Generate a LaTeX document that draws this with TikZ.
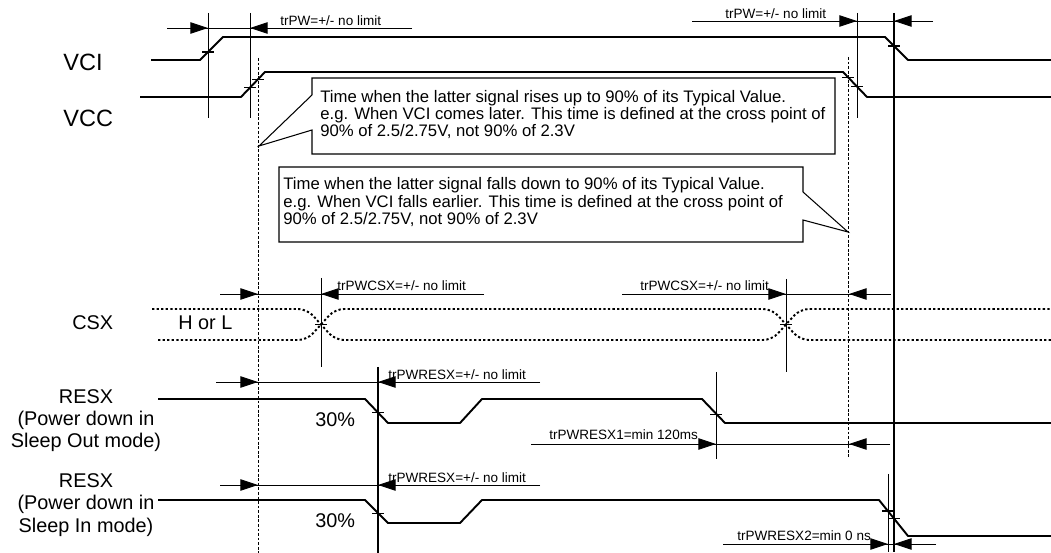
\documentclass[tikz,border=0pt]{standalone}
\usepackage{fontspec}
\setmainfont{Liberation Sans}
\usepackage{tikz}
\usetikzlibrary{arrows.meta}

\tikzset{
	sig/.style = {line width = 1.1pt, line join = round},
	guide/.style = {line width = 0.5pt},
	longguide/.style = {line width = 0.85pt},
	refline/.style = {line width = 0.5pt, dash pattern = on 1.6pt off 1pt},
	busdot/.style = {line width = 1.1pt, dash pattern = on 1.3pt off 1.3pt, rounded corners = 5pt},
	dimarrow/.style = {line width = 0.5pt, -{Triangle[length = 10pt, width = 6.5pt]}},
	crosstick/.style = {line width = 0.6pt},
	bigtext/.style = {font = \fontsize{13.4}{15}\selectfont, inner sep = 0pt},
	sigtext/.style = {font = \fontsize{11.3}{12.8}\selectfont, inner sep = 0pt},
	dimtext/.style = {font = \fontsize{7.7}{9}\selectfont, inner sep = 0pt},
	notetext/.style = {font = \fontsize{9.5}{9.9}\selectfont, inner sep = 0pt, align = left},
}

\begin{document}
\begin{tikzpicture}[x = 0.02cm, y = -0.02cm]
	\def\W{1051}
	\def\H{553}
	
	\useasboundingbox (0,0) rectangle (\W,\H);
	
	% signal names
	\node [bigtext, anchor = west] (vci) at (63,62) {VCI};
	\node [bigtext, anchor = west] (vcc) at (63,118) {VCC};
	\node [sigtext, anchor = west] (csx) at (72,323) {CSX};
	\node [sigtext, anchor = west] (horl) at (178,323) {H or L};
	\node [sigtext, align = center, anchor = base] (resxout) at (86,448) {RESX\\(Power down in\\Sleep Out mode)};
	\node [sigtext, align = center, anchor = base] (resxin) at (86,532) {RESX\\(Power down in\\Sleep In mode)};
	\node [sigtext, anchor = west] (pctout) at (315,420) {30\%};
	\node [sigtext, anchor = west] (pctin) at (315,521) {30\%};
	
	% waveforms
	\draw [sig] (151,60) -- (200,60) -- (223,37) -- (885,37) -- (908,60) -- (\W,60);
	\draw [sig] (140,97) -- (241,97) -- (265,72) -- (843,72) -- (867,97) -- (\W,97);
	\draw [busdot] (152,309) -- (307,309) -- (335,340) -- (772,340) -- (800,309) -- (\W,309);
	\draw [busdot] (158,340) -- (307,340) -- (335,309) -- (772,309) -- (800,340) -- (\W,340);
	\draw [sig] (158,399) -- (365,399) -- (388,423) -- (460,423) -- (482,399) -- (702,399) -- (725,423) -- (\W,423);
	\draw [sig] (158,500) -- (365,500) -- (388,523) -- (460,523) -- (482,500) -- (879,500) -- (908,536) -- (\W,536);
	
	% reference lines
	\draw [guide] (208,13) -- (208,118);
	\draw [guide] (250,13) -- (250,118);
	\draw [guide] (857,13) -- (857,118);
	\draw [longguide] (894,13) -- (894,552);
	\draw [guide] (321,278) -- (321,367);
	\draw [guide] (786,279) -- (786,372);
	\draw [longguide] (378,367) -- (378,553);
	\draw [guide] (716,372) -- (716,459);
	\draw [guide] (888,474) -- (888,552);
	\draw [refline] (258,58) -- (258,553);
	\draw [refline] (848,57) -- (848,457);
	
	\foreach \x/\y in {208/52, 250/87.6, 258/79.3, 848/77.2, 857/86.6, 894/46, 321/324.5, 786/324.5, 378/412.6, 716/414.6, 378/513.5, 888/511, 894/518.6}
		\draw [crosstick] (\x-6,\y) -- (\x+6,\y);
	
	% timing arrows
	\draw [guide] (167,28) -- (412,28);
	\draw [dimarrow] (167,28) -- (208,28);
	\draw [dimarrow] (412,28) -- (250,28);
	\node [dimtext, anchor = base west] (pwon) at (280,25.5) {trPW=+/- no limit};
	
	\draw [guide] (692,21) -- (933,21);
	\draw [dimarrow] (692,21) -- (857,21);
	\draw [dimarrow] (933,21) -- (894,21);
	\node [dimtext, anchor = base west] (pwoff) at (725,18.5) {trPW=+/- no limit};
	
	\draw [guide] (220,294) -- (484,294);
	\draw [dimarrow] (220,294) -- (258,294);
	\draw [dimarrow] (484,294) -- (321,294);
	\node [dimtext, anchor = base west] (csxon) at (337,291) {trPWCSX=+/- no limit};
	
	\draw [guide] (622,294) -- (891,294);
	\draw [dimarrow] (622,294) -- (786,294);
	\draw [dimarrow] (891,294) -- (849,294);
	\node [dimtext, anchor = base west] (csxoff) at (640,291) {trPWCSX=+/- no limit};
	
	\draw [guide] (216,382) -- (540,382);
	\draw [dimarrow] (216,382) -- (258,382);
	\draw [dimarrow] (540,382) -- (378,382);
	\node [dimtext, anchor = base west] (resxa) at (388,379.5) {trPWRESX=+/- no limit};
	
	\draw [guide] (531,444) -- (890,444);
	\draw [dimarrow] (531,444) -- (716,444);
	\draw [dimarrow] (890,444) -- (849,444);
	\node [dimtext, anchor = base west] (resxone) at (549,440) {trPWRESX1=min 120ms};
	
	\draw [guide] (220,485) -- (540,485);
	\draw [dimarrow] (220,485) -- (258,485);
	\draw [dimarrow] (540,485) -- (378,485);
	\node [dimtext, anchor = base west] (resxb) at (388,482) {trPWRESX=+/- no limit};
	
	\draw [guide] (723,544) -- (936,544);
	\draw [dimarrow] (723,544) -- (888,544);
	\draw [dimarrow] (936,544) -- (894,544);
	\node [dimtext, anchor = base west] (resxtwo) at (737,540.5) {trPWRESX2=min 0 ns};
	
	% callouts
	\draw [line width = 0.6pt] (312,78) -- (835,78) -- (835,154) -- (312,154) -- (312,130) -- (259,146) -- (312,95) -- cycle;
	\node [notetext, anchor = base west] (noterise) at (320,137) {Time when the latter signal rises up to 90\% of its Typical Value.\\e.g. When VCI comes later. This time is defined at the cross point of\\90\% of 2.5/2.75V, not 90\% of 2.3V};
	
	\draw [line width = 0.6pt] (279,167) -- (803,167) -- (803,192) -- (848,232) -- (803,220) -- (803,242) -- (279,242) -- cycle;
	\node [notetext, anchor = base west] (notefall) at (283,224.5) {Time when the latter signal falls down to 90\% of its Typical Value.\\e.g. When VCI falls earlier. This time is defined at the cross point of\\90\% of 2.5/2.75V, not 90\% of 2.3V};
\end{tikzpicture}
\end{document}
